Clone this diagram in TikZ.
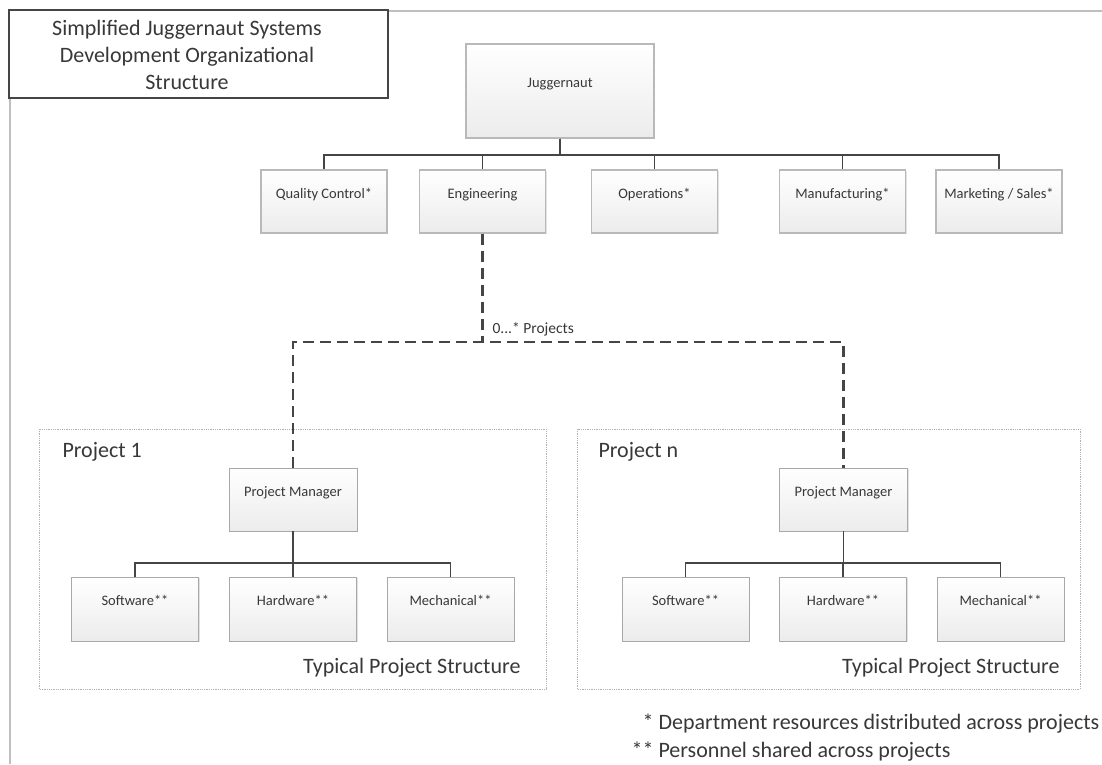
\documentclass[tikz,border=0pt]{standalone}
\usepackage{fontspec}
\setmainfont{Carlito}
\usetikzlibrary{shadows}
\definecolor{jugline}{HTML}{454545}
\definecolor{jugtext}{HTML}{383838}
\definecolor{jugframe}{HTML}{A8A8A8}

\begin{document}
\begin{tikzpicture}[
        x=1pt, y=-1pt,
        every node/.style={font=\fontsize{14.5}{17}\selectfont, text=jugtext},
        unit/.style={draw=jugframe, line width=0.6pt, top color=white, bottom color=gray!15, minimum width=126pt, minimum height=63pt, inner sep=0pt, text height=9pt, text depth=16pt, drop shadow={shadow xshift=1.3pt, shadow yshift=-1.3pt, fill=gray!45, opacity=0.5}},
        dept/.style={unit, draw=jugframe!80, line width=1.2pt,
            append after command={[draw=jugframe, line width=0.6pt] ([shift={(2.2pt,-2.2pt)}]\tikzlastnode.north west) rectangle ([shift={(-2.2pt,2.2pt)}]\tikzlastnode.south east)}},
        bigtext/.style={font=\fontsize{22}{27}\selectfont},
        tree/.style={draw=jugline, line width=1.8pt},
        projlink/.style={draw=jugline, line width=2.4pt, dash pattern=on 11pt off 6pt},
        prjframe/.style={draw=gray!60, densely dotted, line width=0.8pt},
        pageedge/.style={draw=gray!50, line width=1.2pt}
    ]
        \useasboundingbox (0,0) rectangle (1102,764);
        \fill[white] (0,0) rectangle (1102,764);

        % page edge and title
        \draw[pageedge] (388,11) -- (1102,11);
        \draw[pageedge] (10,98) -- (10,764);
        \draw[jugline, line width=1.5pt] (9,10) rectangle (388,98);
        \node[bigtext, align=center] (title) at (187,55) {Simplified Juggernaut Systems\\Development Organizational\\Structure};

        % top level
        \node[dept, minimum width=188pt, minimum height=94pt] (jug) at (560,91) {Juggernaut};
        \node[dept] (qc) at (324,201.5) {Quality Control*};
        \node[dept] (eng) at (482.5,201.5) {Engineering};
        \node[dept] (ops) at (654.5,201.5) {Operations*};
        \node[dept] (mfg) at (842.5,201.5) {Manufacturing*};
        \node[dept] (mkt) at (999,201.5) {Marketing / Sales*};

        \foreach \d in {qc,eng,ops,mfg,mkt}
            \draw[tree] (jug.south) -- ++(0,16) -| (\d.north);

        % project frames
        \draw[prjframe] (39,429) rectangle (546,689);
        \draw[prjframe] (577,429) rectangle (1080,689);
        \node[bigtext, anchor=base west] (prjA) at (59,457) {Project 1};
        \node[bigtext, anchor=base west] (prjB) at (595,457) {Project n};
        \node[bigtext, anchor=base east] (typA) at (524,673) {Typical Project Structure};
        \node[bigtext, anchor=base east] (typB) at (1063,673) {Typical Project Structure};

        % project 1
        \node[unit, minimum width=128pt] (pmA) at (293,499.5) {Project Manager};
        \node[unit, minimum width=127pt, minimum height=64pt] (swA) at (135,609) {Software**};
        \node[unit, minimum width=127pt, minimum height=64pt] (hwA) at (293,609) {Hardware**};
        \node[unit, minimum width=127pt, minimum height=64pt] (meA) at (450.5,609) {Mechanical**};

        % project n
        \node[unit, minimum width=128pt] (pmB) at (843.5,499.5) {Project Manager};
        \node[unit, minimum width=127pt, minimum height=64pt] (swB) at (685.5,609) {Software**};
        \node[unit, minimum width=127pt, minimum height=64pt] (hwB) at (843,609) {Hardware**};
        \node[unit, minimum width=127pt, minimum height=64pt] (meB) at (1000.5,609) {Mechanical**};

        \foreach \s in {swA,hwA,meA}
            \draw[tree] (pmA.south) -- ++(0,32) -| (\s.north);
        \foreach \s in {swB,hwB,meB}
            \draw[tree] (pmB.south) -- ++(0,32) -| (\s.north);

        % engineering to projects
        \coordinate (fork) at (eng.south |- 0,342);
        \draw[projlink] (eng.south) -- (fork);
        \draw[projlink] (pmA.north) |- (fork) -| (pmB.north);
        \node[anchor=base west, font=\fontsize{15.5}{18}\selectfont] (count) at (489,333) {0...* Projects};

        % footnotes
        \node[bigtext, anchor=base west] (noteA) at (655,729) {\llap{*\ }Department resources distributed across projects};
        \node[bigtext, anchor=base west] (noteB) at (655,757) {\llap{**\ }Personnel shared across projects};
    \end{tikzpicture}
\end{document}
